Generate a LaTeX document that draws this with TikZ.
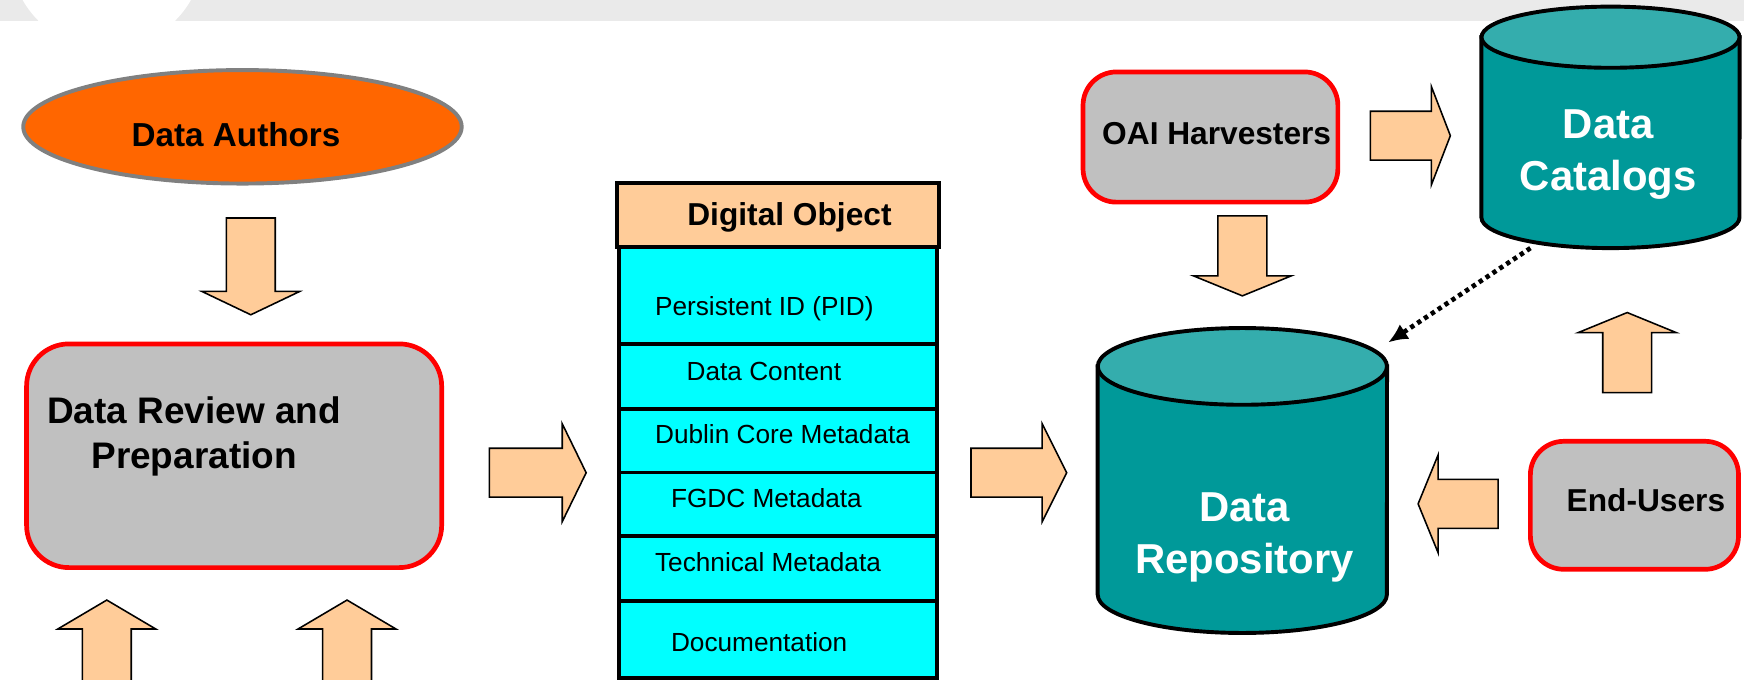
\documentclass[tikz,border=0pt]{standalone}
\usepackage{fontspec}
\setmainfont{Liberation Sans}
\usepackage{tikz}
\usetikzlibrary{shapes.geometric, positioning, arrows.meta, calc}

\definecolor{peach}{HTML}{FFCC99}
\definecolor{authorsorange}{HTML}{FF6600}
\definecolor{boxgrey}{HTML}{C0C0C0}
\definecolor{rowcyan}{HTML}{00FFFF}
\definecolor{drumteal}{HTML}{009999}
\definecolor{lidteal}{HTML}{34ADAD}
\definecolor{bandgrey}{HTML}{EAEAEA}

\tikzset{
    x=0.01cm, y=-0.01cm, % one unit is one pixel of the slide, y grows downwards
    every node/.style={inner sep=0pt, outer sep=0pt}, % boxes are sized by hand
    greybox/.style={rectangle, rounded corners=0.3cm, draw=red, line width=1.2pt, fill=boxgrey}, % red framed boxes
    dorow/.style={rectangle, draw=black, line width=1pt, fill=rowcyan, minimum width=2.853cm}, % rows of the digital object
    drumspan/.style={rectangle}, % invisible node around a drum
    drum/.style={fill=drumteal, draw=black, line width=1pt},
    lid/.style={fill=lidteal, draw=black, line width=1pt},
    boldtext/.style={anchor=base west, font=\fontsize{8.1}{9.7}\selectfont\bfseries},
    rowtext/.style={anchor=base west, font=\fontsize{6.7}{8}\selectfont},
    drumtext/.style={anchor=north, align=center, text=white, font=\fontsize{10.7}{13.3}\selectfont\bfseries},
    feed/.style={line width=1.2pt, dash pattern=on 1.1pt off 1pt, -{Latex[length=5pt, width=4.5pt]}}, % dotted link
    pics/fatarrow/.style 2 args={code={
        \filldraw[fill=peach, draw=black, line width=0.4pt] (0,0) -- (-#2,44) -- (-#2,22) -- (-#1,22) -- (-#1,-22) -- (-#2,-22) -- (-#2,-44) -- cycle;
    }},
}

\begin{document}
\begin{tikzpicture}
\useasboundingbox (0,0) rectangle (1568,611);
\clip (0,0) rectangle (1568,611);

% slide header
\fill[bandgrey] (0,0) rectangle (1568,18.6);
\fill[white] (96,-43) circle[radius=87];

% left column
\node[ellipse, draw=gray, line width=1pt, fill=authorsorange, minimum width=3.94cm, minimum height=1.02cm] (authors) at (218,114) {};
\node[boldtext, font=\fontsize{8.5}{10}\selectfont\bfseries] (authorstxt) at (118.4,131.3) {Data Authors};
\node[greybox, rounded corners=0.38cm, minimum width=3.73cm, minimum height=2.01cm] (review) at (210.5,409.75) {};
\node[anchor=north, align=center, font=\fontsize{9.45}{11.5}\selectfont\bfseries] (reviewtxt) at (174.5,357) {Data Review and\\Preparation};

% digital object
\node[dorow, minimum height=0.869cm] (pid) at (699.55,265.85) {};
\node[dorow, minimum height=0.587cm, below=0pt of pid] (content) {};
\node[dorow, minimum height=0.567cm, below=0pt of content] (dublin) {};
\node[dorow, minimum height=0.573cm, below=0pt of dublin] (fgdc) {};
\node[dorow, minimum height=0.58cm, below=0pt of fgdc] (tech) {};
\node[dorow, minimum height=0.696cm, below=0pt of tech] (docs) {};
\node[dorow, fill=peach, minimum width=2.898cm, minimum height=0.582cm, above=0pt of pid] (dohead) {};
\node[boldtext] (doheadtxt) at (618,202.3) {Digital Object};
\node[rowtext] (pidtxt) at (589,283.8) {Persistent ID (PID)};
\node[rowtext] (contenttxt) at (617.4,341.7) {Data Content};
\node[rowtext] (dublintxt) at (589,398.6) {Dublin Core Metadata};
\node[rowtext] (fgdctxt) at (603.3,456.5) {FGDC Metadata};
\node[rowtext] (techtxt) at (589,514) {Technical Metadata};
\node[rowtext] (docstxt) at (603.3,586) {Documentation};

% right part
\node[greybox, minimum width=2.29cm, minimum height=1.17cm] (oai) at (1088.3,123.2) {};
\node[boldtext] (oaitxt) at (991,129.5) {OAI Harvesters};
\node[greybox, minimum width=1.87cm, minimum height=1.15cm] (users) at (1469.5,454.3) {};
\node[boldtext] (userstxt) at (1408.6,460) {End-Users};

\node[drumspan, minimum width=2.32cm, minimum height=2.17cm] (cat) at (1448,114.5) {};
\filldraw[drum] ($(cat.north west)+(0,27.5)$) -- ($(cat.south west)+(0,-27.5)$) arc[start angle=180, end angle=0, x radius=116, y radius=27.5] -- ($(cat.north east)+(0,27.5)$) -- cycle;
\filldraw[lid] ($(cat.north)+(0,27.5)$) ellipse[x radius=116, y radius=27.5];
\node[drumtext] (cattxt) at (1446,99) {Data\\Catalogs};

\node[drumspan, minimum width=2.6cm, minimum height=2.74cm] (repo) at (1117,432) {};
\filldraw[drum] ($(repo.north west)+(0,34.5)$) -- ($(repo.south west)+(0,-34.5)$) arc[start angle=180, end angle=0, x radius=130, y radius=34.5] -- ($(repo.north east)+(0,34.5)$) -- cycle;
\filldraw[lid] ($(repo.north)+(0,34.5)$) ellipse[x radius=130, y radius=34.5];
\node[drumtext] (repotxt) at (1119,443) {Data\\Repository};

\draw[feed] ($(cat.south)+(-72,0)$) -- ($(repo.north east)+(1,13)$);

% block arrows
\pic[rotate=-90] at (225.5,283) {fatarrow={87}{21}};
\pic at (527,425) {fatarrow={87}{21.5}};
\pic at (959,425) {fatarrow={86}{22}};
\pic[rotate=90] at (96,539.5) {fatarrow={100}{26}};
\pic[rotate=90] at (312,539.5) {fatarrow={100}{26}};
\pic[rotate=-90] at (1117,266) {fatarrow={72}{18}};
\pic at (1304,122) {fatarrow={72}{17}};
\pic[rotate=90] at (1463,281) {fatarrow={72}{18}};
\pic[rotate=180] at (1275,453) {fatarrow={72}{18}};

\end{tikzpicture}
\end{document}
